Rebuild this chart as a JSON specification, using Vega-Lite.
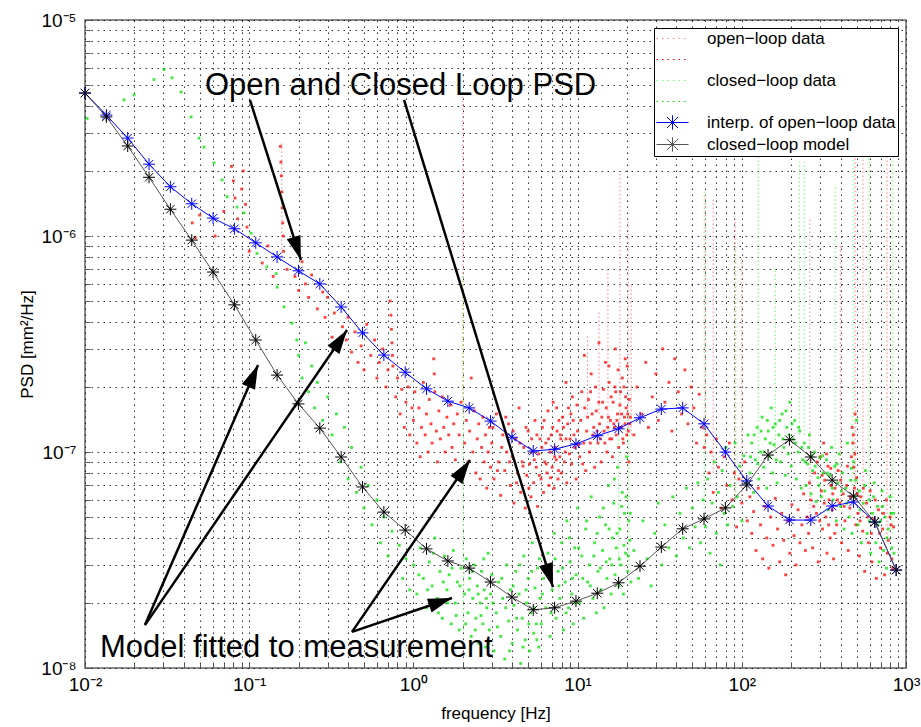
{
"$schema": "https://vega.github.io/schema/vega-lite/v6.json",
"width": 821, "height": 648,
"autosize": {"type": "none"},
"padding": {"left": 85, "top": 20, "right": 15, "bottom": 59},
"background": "white",
"config": {
  "view": {"stroke": "#666", "strokeWidth": 1.5},
  "axis": {"grid": true, "gridColor": "#000", "gridDash": [1.5, 4.5], "gridOpacity": 0.8, "gridWidth": 1, "domain": false, "ticks": true, "tickColor": "#555", "tickSize": -5, "labelFont": "Liberation Sans Narrow, Liberation Sans, sans-serif", "labelFontSize": 19, "labelColor": "#000", "labelOverlap": false, "labelBound": false, "labelFlush": false, "titleFont": "Liberation Sans Narrow, Liberation Sans, sans-serif", "titleFontSize": 17, "titleFontWeight": "normal", "titleColor": "#000"},
  "legend": {"orient": "top-right", "offset": 8, "fillColor": "#fff", "strokeColor": "#000", "strokeWidth": 1, "padding": 2, "labelFont": "Liberation Sans, sans-serif", "labelFontSize": 17, "labelColor": "#000", "labelLimit": 400, "symbolSize": 256, "symbolStrokeWidth": 1, "labelOffset": 34, "rowPadding": 3}
},
"datasets": {
  "ol": [
    {"f":0.045,"p":1.15e-6},{"f":0.047,"p":9.8e-7},{"f":0.05,"p":1.25e-6},{"f":0.062,"p":1.0e-6},{"f":0.07,"p":1.3e-6},{"f":0.078,"p":2.1e-6},{"f":0.08,"p":1.8e-6},{"f":0.082,"p":1.5e-6},{"f":0.085,"p":1.2e-6},{"f":0.09,"p":1.65e-6},{"f":0.092,"p":2.0e-6},{"f":0.095,"p":1.4e-6},{"f":0.097,"p":1.1e-6},{"f":0.1,"p":8.5e-7},
    {"f":0.12,"p":7.5e-7},{"f":0.13,"p":9e-7},{"f":0.14,"p":6.5e-7},{"f":0.155,"p":2.6e-6},{"f":0.156,"p":2.2e-6},{"f":0.157,"p":1.9e-6},{"f":0.158,"p":1.6e-6},{"f":0.159,"p":1.35e-6},{"f":0.16,"p":1.15e-6},{"f":0.161,"p":1.0e-6},{"f":0.162,"p":8.5e-7},{"f":0.17,"p":7e-7},{"f":0.19,"p":6.5e-7},{"f":0.2,"p":5.6e-7},{"f":0.21,"p":7.6e-7},{"f":0.22,"p":6e-7},{"f":0.23,"p":5.2e-7},{"f":0.24,"p":6.6e-7},{"f":0.26,"p":4.6e-7},{"f":0.28,"p":5.5e-7},{"f":0.29,"p":4.2e-7},{"f":0.3,"p":5.2e-7},
    {"f":0.32,"p":3.4e-7},{"f":0.33,"p":4.4e-7},{"f":0.35,"p":3.0e-7},{"f":0.37,"p":3.8e-7},{"f":0.39,"p":3.3e-7},{"f":0.4,"p":4.2e-7},{"f":0.42,"p":2.9e-7},{"f":0.44,"p":3.6e-7},{"f":0.46,"p":2.6e-7},{"f":0.48,"p":3.1e-7},{"f":0.5,"p":2.4e-7},{"f":0.52,"p":3.9e-7},{"f":0.55,"p":2.8e-7},{"f":0.58,"p":3.3e-7},{"f":0.6,"p":2.2e-7},{"f":0.62,"p":2.6e-7},{"f":0.65,"p":3.0e-7},{"f":0.68,"p":2.0e-7},{"f":0.7,"p":2.4e-7},{"f":0.72,"p":5.0e-7},{"f":0.73,"p":4.3e-7},{"f":0.735,"p":3.7e-7},{"f":0.74,"p":3.2e-7},{"f":0.745,"p":2.8e-7},{"f":0.75,"p":2.5e-7},{"f":0.78,"p":1.8e-7},{"f":0.8,"p":2.2e-7},{"f":0.83,"p":1.5e-7},{"f":0.85,"p":1.95e-7},{"f":0.88,"p":1.3e-7},{"f":0.9,"p":1.7e-7},{"f":0.93,"p":2.0e-7},{"f":0.95,"p":1.2e-7},{"f":0.98,"p":1.6e-7},
    {"f":1.0,"p":1.4e-7},{"f":1.02,"p":1.9e-7},{"f":1.05,"p":1.1e-7},{"f":1.08,"p":1.6e-7},{"f":1.1,"p":9.5e-8},{"f":1.12,"p":1.3e-7},{"f":1.15,"p":2.1e-7},{"f":1.18,"p":1.2e-7},{"f":1.2,"p":1.5e-7},{"f":1.23,"p":1.0e-7},{"f":1.25,"p":1.75e-7},{"f":1.28,"p":1.35e-7},{"f":1.3,"p":1.1e-7},{"f":1.33,"p":2.7e-7},{"f":1.34,"p":2.3e-7},{"f":1.35,"p":1.9e-7},{"f":1.38,"p":1.25e-7},{"f":1.4,"p":9e-8},{"f":1.43,"p":1.55e-7},{"f":1.46,"p":1.15e-7},{"f":1.5,"p":1.8e-7},{"f":1.53,"p":1.3e-7},{"f":1.56,"p":1.0e-7},{"f":1.6,"p":1.45e-7},{"f":1.64,"p":1.2e-7},{"f":1.68,"p":1.65e-7},{"f":1.72,"p":1.05e-7},{"f":1.76,"p":1.35e-7},{"f":1.8,"p":9.2e-8},{"f":1.85,"p":1.5e-7},{"f":1.9,"p":1.2e-7},{"f":1.95,"p":1.7e-7},{"f":2.05,"p":1.1e-7},{"f":2.1,"p":1.4e-7},{"f":2.15,"p":9e-8},{"f":2.2,"p":1.25e-7},{"f":2.25,"p":2.2e-7},{"f":2.3,"p":1.0e-7},{"f":2.35,"p":1.55e-7},{"f":2.4,"p":8e-8},{"f":2.45,"p":1.15e-7},{"f":2.5,"p":1.35e-7},{"f":2.55,"p":7.5e-8},{"f":2.6,"p":1.05e-7},{"f":2.65,"p":1.45e-7},{"f":2.7,"p":9e-8},{"f":2.75,"p":1.2e-7},{"f":2.8,"p":6.8e-8},{"f":2.85,"p":1.0e-7},{"f":2.9,"p":1.3e-7},{"f":2.95,"p":8.5e-8},
    {"f":3.0,"p":1.1e-7},{"f":3.1,"p":7.5e-8},{"f":3.2,"p":1.5e-7},{"f":3.3,"p":9e-8},{"f":3.4,"p":6.3e-8},{"f":3.5,"p":1.2e-7},{"f":3.6,"p":8.2e-8},{"f":3.7,"p":1.0e-7},{"f":3.8,"p":1.35e-7},{"f":3.9,"p":7e-8},{"f":4.0,"p":9.5e-8},{"f":4.1,"p":5.8e-8},{"f":4.2,"p":1.15e-7},{"f":4.3,"p":8e-8},{"f":4.4,"p":1.6e-7},{"f":4.5,"p":6.5e-8},{"f":4.6,"p":9e-8},{"f":4.7,"p":1.05e-7},{"f":4.8,"p":5.5e-8},{"f":4.9,"p":7.8e-8},{"f":5.0,"p":1.25e-7},{"f":5.1,"p":8.8e-8},{"f":5.2,"p":6.2e-8},{"f":5.3,"p":1.0e-7},{"f":5.4,"p":7.2e-8},{"f":5.5,"p":1.4e-7},{"f":5.6,"p":8.5e-8},{"f":5.7,"p":5.6e-8},{"f":5.8,"p":9.8e-8},{"f":5.9,"p":1.15e-7},{"f":6.0,"p":7.5e-8},{"f":6.1,"p":1.3e-7},{"f":6.2,"p":6.5e-8},{"f":6.3,"p":9e-8},{"f":6.4,"p":1.1e-7},{"f":6.5,"p":8e-8},{"f":6.6,"p":1.55e-7},{"f":6.7,"p":7e-8},{"f":6.8,"p":1.0e-7},{"f":6.9,"p":1.2e-7},{"f":7.0,"p":8.5e-8},{"f":7.1,"p":1.7e-7},{"f":7.2,"p":6.8e-8},{"f":7.3,"p":1.05e-7},{"f":7.4,"p":9.2e-8},{"f":7.5,"p":1.25e-7},{"f":7.6,"p":7.5e-8},{"f":7.7,"p":1.4e-7},{"f":7.8,"p":9.5e-8},{"f":7.9,"p":1.15e-7},
    {"f":3.05,"p":1.3e-7},{"f":3.25,"p":8.2e-8},{"f":3.45,"p":1.05e-7},{"f":3.65,"p":1.45e-7},{"f":3.85,"p":9e-8},{"f":4.05,"p":1.25e-7},{"f":4.25,"p":7.2e-8},{"f":4.45,"p":1.1e-7},{"f":4.65,"p":8.6e-8},{"f":4.85,"p":1.3e-7},{"f":5.05,"p":6.8e-8},{"f":5.25,"p":1.15e-7},{"f":5.45,"p":9.2e-8},{"f":5.65,"p":1.2e-7},{"f":5.85,"p":7.8e-8},{"f":6.05,"p":1.05e-7},{"f":6.25,"p":1.4e-7},{"f":6.45,"p":8.8e-8},{"f":6.65,"p":1.15e-7},{"f":6.85,"p":7.6e-8},{"f":7.05,"p":1.3e-7},{"f":7.25,"p":9.5e-8},{"f":7.45,"p":1.6e-7},{"f":7.65,"p":8.2e-8},{"f":7.85,"p":1.2e-7},
    {"f":8.0,"p":8e-8},{"f":8.2,"p":1.3e-7},{"f":8.4,"p":1.0e-7},{"f":8.6,"p":7.2e-8},{"f":8.8,"p":1.6e-7},{"f":9.0,"p":1.15e-7},{"f":9.2,"p":8.8e-8},{"f":9.4,"p":1.4e-7},{"f":9.6,"p":1.05e-7},{"f":9.8,"p":7.5e-8},{"f":10.0,"p":1.25e-7},{"f":10.3,"p":9.5e-8},{"f":10.6,"p":1.9e-7},{"f":10.9,"p":1.1e-7},{"f":11.2,"p":8.2e-8},{"f":11.5,"p":1.45e-7},{"f":11.8,"p":1.0e-7},{"f":12.1,"p":2.3e-7},{"f":12.4,"p":1.2e-7},{"f":12.7,"p":8.5e-8},{"f":13.0,"p":1.55e-7},{"f":13.3,"p":1.1e-7},{"f":13.6,"p":1.35e-7},{"f":13.9,"p":9e-8},{"f":14.2,"p":1.7e-7},{"f":14.5,"p":1.25e-7},{"f":14.8,"p":2.6e-7},{"f":15.1,"p":1.0e-7},{"f":15.4,"p":1.45e-7},{"f":15.7,"p":1.15e-7},{"f":16.0,"p":1.8e-7},{"f":16.3,"p":9.5e-8},{"f":16.6,"p":1.35e-7},{"f":16.9,"p":2.0e-7},{"f":17.2,"p":1.2e-7},{"f":17.5,"p":1.5e-7},{"f":17.8,"p":1.05e-7},{"f":18.1,"p":1.65e-7},{"f":18.4,"p":1.3e-7},{"f":18.7,"p":2.2e-7},{"f":19.0,"p":1.1e-7},{"f":19.3,"p":1.45e-7},{"f":19.6,"p":1.8e-7},{"f":19.9,"p":1.2e-7},{"f":20.2,"p":1.5e-7},{"f":20.5,"p":9e-8},{"f":20.8,"p":1.35e-7},
    {"f":8.1,"p":1.45e-7},{"f":8.3,"p":9e-8},{"f":8.5,"p":1.15e-7},{"f":8.7,"p":1.35e-7},{"f":8.9,"p":9.8e-8},{"f":9.1,"p":1.5e-7},{"f":9.5,"p":1.2e-7},{"f":9.9,"p":1.65e-7},{"f":10.15,"p":1.08e-7},{"f":10.45,"p":1.4e-7},{"f":10.75,"p":8.8e-8},{"f":11.05,"p":1.6e-7},{"f":11.35,"p":1.25e-7},{"f":11.65,"p":1.75e-7},{"f":11.95,"p":1.1e-7},{"f":12.25,"p":1.5e-7},{"f":12.55,"p":1.3e-7},{"f":12.85,"p":2.0e-7},{"f":13.15,"p":1.25e-7},{"f":13.45,"p":1.7e-7},{"f":13.75,"p":1.15e-7},{"f":14.05,"p":1.45e-7},{"f":14.35,"p":1.95e-7},{"f":14.65,"p":1.1e-7},{"f":14.95,"p":1.6e-7},{"f":15.25,"p":1.3e-7},{"f":15.55,"p":2.1e-7},{"f":15.85,"p":1.4e-7},{"f":16.15,"p":1.15e-7},{"f":16.45,"p":1.7e-7},{"f":16.75,"p":1.3e-7},{"f":17.05,"p":1.9e-7},{"f":17.35,"p":1.4e-7},{"f":17.65,"p":2.4e-7},{"f":17.95,"p":1.3e-7},{"f":18.25,"p":1.9e-7},{"f":18.55,"p":1.5e-7},{"f":18.85,"p":1.15e-7},{"f":19.15,"p":2.0e-7},{"f":19.45,"p":1.35e-7},{"f":19.75,"p":1.6e-7},{"f":20.05,"p":2.5e-7},{"f":20.35,"p":1.25e-7},{"f":20.65,"p":1.75e-7},{"f":20.95,"p":1.45e-7},
    {"f":8.5,"p":2.1e-7},{"f":11.0,"p":2.8e-7},{"f":13.5,"p":3.2e-7},{"f":15.5,"p":2.5e-7},{"f":17.0,"p":3.0e-7},{"f":19.5,"p":2.7e-7},{"f":12.0,"p":1.9e-7},{"f":9.3,"p":1.8e-7},
    {"f":22,"p":1.2e-7},{"f":23,"p":2.0e-7},{"f":24.5,"p":1.5e-7},{"f":26,"p":2.6e-7},{"f":27,"p":1.3e-7},{"f":28.5,"p":1.8e-7},{"f":30,"p":2.3e-7},{"f":31,"p":1.4e-7},{"f":33,"p":3.0e-7},{"f":34,"p":1.7e-7},{"f":36,"p":2.1e-7},{"f":37.5,"p":1.25e-7},{"f":39,"p":2.7e-7},{"f":41,"p":1.9e-7},{"f":43,"p":1.5e-7},{"f":45,"p":2.4e-7},{"f":47,"p":1.35e-7},{"f":49,"p":2.0e-7},{"f":51,"p":1.6e-7},{"f":53,"p":1.1e-7},{"f":55,"p":1.85e-7},{"f":57,"p":1.3e-7},{"f":59,"p":1.05e-7},
    {"f":61,"p":1.2e-7},{"f":63,"p":8e-8},{"f":65,"p":1.0e-7},{"f":67,"p":6.5e-8},{"f":70,"p":1.15e-7},{"f":72,"p":8.5e-8},{"f":75,"p":5.5e-8},{"f":78,"p":9.5e-8},{"f":81,"p":7e-8},{"f":84,"p":1.1e-7},{"f":87,"p":6e-8},{"f":90,"p":8e-8},{"f":93,"p":4.5e-8},{"f":96,"p":7.5e-8},{"f":100,"p":5.8e-8},{"f":104,"p":9e-8},{"f":108,"p":4.8e-8},
    {"f":112,"p":6.2e-8},{"f":115,"p":4.2e-8},{"f":118,"p":5.3e-8},{"f":122,"p":3.5e-8},{"f":126,"p":6.8e-8},{"f":130,"p":4.6e-8},{"f":134,"p":3.2e-8},{"f":138,"p":5.6e-8},{"f":142,"p":4e-8},{"f":146,"p":2.9e-8},{"f":150,"p":5e-8},{"f":155,"p":3.7e-8},{"f":160,"p":6.1e-8},{"f":165,"p":4.4e-8},{"f":170,"p":3.1e-8},{"f":175,"p":5.2e-8},{"f":180,"p":3.9e-8},{"f":185,"p":2.7e-8},{"f":190,"p":4.8e-8},{"f":196,"p":3.4e-8},{"f":202,"p":5.7e-8},{"f":208,"p":4.1e-8},{"f":214,"p":3e-8},{"f":220,"p":5.4e-8},{"f":226,"p":3.8e-8},{"f":232,"p":4.6e-8},{"f":238,"p":6.4e-8},{"f":244,"p":3.5e-8},{"f":250,"p":5e-8},
    {"f":255,"p":4.2e-8},{"f":262,"p":6e-8},{"f":270,"p":3.6e-8},{"f":278,"p":8e-8},{"f":285,"p":5.2e-8},{"f":292,"p":3.1e-8},{"f":300,"p":9.5e-8},{"f":305,"p":6.6e-8},{"f":310,"p":4.4e-8},{"f":315,"p":1.1e-7},{"f":320,"p":7.4e-8},{"f":325,"p":5e-8},{"f":330,"p":3.4e-8},{"f":335,"p":8.6e-8},{"f":340,"p":6e-8},{"f":345,"p":4e-8},{"f":350,"p":7e-8},{"f":355,"p":5.4e-8},{"f":362,"p":3.2e-8},{"f":370,"p":6.8e-8},{"f":378,"p":4.6e-8},{"f":386,"p":8.2e-8},{"f":395,"p":5.8e-8},{"f":405,"p":3.8e-8},{"f":415,"p":6.4e-8},
    {"f":258,"p":7.2e-8},{"f":274,"p":5.6e-8},{"f":288,"p":9e-8},{"f":298,"p":4.8e-8},{"f":308,"p":7.8e-8},{"f":318,"p":5.8e-8},{"f":328,"p":9.8e-8},{"f":338,"p":4.6e-8},{"f":348,"p":8.4e-8},{"f":358,"p":6.4e-8},{"f":368,"p":4.2e-8},{"f":382,"p":6e-8},{"f":400,"p":7.4e-8},{"f":420,"p":5.6e-8},{"f":440,"p":8.6e-8},{"f":460,"p":6.2e-8},{"f":478,"p":1.2e-7},{"f":488,"p":9.8e-8},{"f":505,"p":6.4e-8},{"f":525,"p":4.8e-8},{"f":550,"p":6.8e-8},{"f":585,"p":5e-8},{"f":615,"p":4.2e-8},{"f":650,"p":6e-8},{"f":690,"p":4.2e-8},{"f":730,"p":5.2e-8},{"f":770,"p":3.4e-8},{"f":810,"p":4.6e-8},{"f":830,"p":2.9e-8},
    {"f":425,"p":4.8e-8},{"f":435,"p":7e-8},{"f":445,"p":3.5e-8},{"f":455,"p":5.5e-8},{"f":465,"p":9.5e-8},{"f":470,"p":1.3e-7},{"f":475,"p":1.1e-7},{"f":480,"p":8.5e-8},{"f":485,"p":6.8e-8},{"f":490,"p":1.5e-7},{"f":495,"p":4.6e-8},{"f":500,"p":7.6e-8},{"f":510,"p":5.2e-8},{"f":520,"p":3.3e-8},{"f":530,"p":6.2e-8},{"f":545,"p":4.3e-8},{"f":560,"p":2.8e-8},{"f":575,"p":5.8e-8},{"f":590,"p":3.8e-8},{"f":605,"p":6.6e-8},{"f":620,"p":3.1e-8},{"f":640,"p":4.9e-8},{"f":660,"p":2.6e-8},{"f":680,"p":5.4e-8},{"f":700,"p":3.6e-8},{"f":720,"p":4.4e-8},{"f":740,"p":2.7e-8},{"f":760,"p":6e-8},{"f":780,"p":3.9e-8},{"f":800,"p":5e-8},{"f":820,"p":3.2e-8},{"f":840,"p":4.5e-8}
  ],
  "cl": [
    {"f":0.0103,"p":3.5e-6},{"f":0.0173,"p":4.27e-6},{"f":0.0199,"p":4.5e-6},{"f":0.0263,"p":5.3e-6},{"f":0.0303,"p":5.9e-6},{"f":0.0339,"p":5.4e-6},{"f":0.0385,"p":4.64e-6},{"f":0.0443,"p":3.56e-6},{"f":0.0495,"p":2.84e-6},{"f":0.053,"p":2.58e-6},{"f":0.061,"p":2.18e-6},{"f":0.0683,"p":1.82e-6},{"f":0.0733,"p":1.52e-6},{"f":0.0843,"p":1.36e-6},{"f":0.093,"p":1.28e-6},{"f":0.1026,"p":1.03e-6},{"f":0.1116,"p":8.3e-7},{"f":0.128,"p":7.2e-7},{"f":0.146,"p":6.7e-7},{"f":0.148,"p":5.8e-7},{"f":0.163,"p":4.7e-7},{"f":0.182,"p":3.95e-7},{"f":0.195,"p":3.3e-7},
    {"f":0.2,"p":2.8e-7},{"f":0.21,"p":2.2e-7},{"f":0.22,"p":3.2e-7},{"f":0.23,"p":1.9e-7},{"f":0.24,"p":2.5e-7},{"f":0.25,"p":1.6e-7},{"f":0.26,"p":2.1e-7},{"f":0.28,"p":1.4e-7},{"f":0.3,"p":1.8e-7},{"f":0.32,"p":1.2e-7},{"f":0.34,"p":1.5e-7},{"f":0.36,"p":9e-8},{"f":0.38,"p":1.3e-7},{"f":0.4,"p":7.5e-8},{"f":0.42,"p":1.05e-7},{"f":0.45,"p":6.5e-8},{"f":0.48,"p":8.5e-8},{"f":0.5,"p":5.5e-8},{"f":0.53,"p":7e-8},{"f":0.56,"p":4.6e-8},{"f":0.6,"p":6e-8},{"f":0.63,"p":3.8e-8},{"f":0.66,"p":5e-8},{"f":0.7,"p":3.3e-8},{"f":0.74,"p":4.3e-8},{"f":0.78,"p":2.9e-8},{"f":0.82,"p":3.7e-8},{"f":0.86,"p":2.6e-8},{"f":0.9,"p":3.2e-8},{"f":0.95,"p":2.3e-8},
    {"f":1.0,"p":3.0e-8},{"f":1.05,"p":2.2e-8},{"f":1.1,"p":3.6e-8},{"f":1.15,"p":2.6e-8},{"f":1.2,"p":1.9e-8},{"f":1.25,"p":3.1e-8},{"f":1.3,"p":2.4e-8},{"f":1.35,"p":4.0e-8},{"f":1.4,"p":2.1e-8},{"f":1.45,"p":2.8e-8},{"f":1.5,"p":1.7e-8},{"f":1.55,"p":3.3e-8},{"f":1.6,"p":2.3e-8},{"f":1.65,"p":2.7e-8},{"f":1.7,"p":1.6e-8},{"f":1.75,"p":3.5e-8},{"f":1.8,"p":2.0e-8},{"f":1.85,"p":2.5e-8},{"f":1.9,"p":1.5e-8},{"f":1.95,"p":2.9e-8},{"f":2.05,"p":2.2e-8},{"f":2.1,"p":3.2e-8},{"f":2.15,"p":1.8e-8},{"f":2.2,"p":2.6e-8},{"f":2.25,"p":1.4e-8},{"f":2.3,"p":2.1e-8},{"f":2.35,"p":3.0e-8},{"f":2.4,"p":1.7e-8},{"f":2.45,"p":2.4e-8},{"f":2.5,"p":1.3e-8},{"f":2.55,"p":2.0e-8},{"f":2.6,"p":2.8e-8},{"f":2.65,"p":1.6e-8},{"f":2.7,"p":2.3e-8},{"f":2.75,"p":1.25e-8},{"f":2.8,"p":1.9e-8},{"f":2.85,"p":3.4e-8},{"f":2.9,"p":1.5e-8},{"f":2.95,"p":2.2e-8},{"f":3.0,"p":2.7e-8},{"f":3.1,"p":1.2e-8},{"f":3.2,"p":1.8e-8},{"f":3.3,"p":2.5e-8},{"f":3.4,"p":1.4e-8},{"f":3.5,"p":2.1e-8},{"f":3.6,"p":1.1e-8},{"f":3.7,"p":3.0e-8},{"f":3.8,"p":1.65e-8},{"f":3.9,"p":2.3e-8},{"f":4.0,"p":1.3e-8},{"f":4.1,"p":1.95e-8},{"f":4.2,"p":2.8e-8},{"f":4.3,"p":1.5e-8},{"f":4.4,"p":2.2e-8},{"f":4.5,"p":1.05e-8},{"f":4.6,"p":1.7e-8},{"f":4.7,"p":3.3e-8},{"f":4.8,"p":1.35e-8},{"f":4.9,"p":2.0e-8},{"f":5.0,"p":2.6e-8},{"f":5.1,"p":1.2e-8},{"f":5.2,"p":1.8e-8},{"f":5.3,"p":3.8e-8},{"f":5.4,"p":1.45e-8},{"f":5.5,"p":2.35e-8},{"f":5.6,"p":1.6e-8},{"f":5.7,"p":2.9e-8},{"f":5.8,"p":1.25e-8},{"f":5.9,"p":2.1e-8},
    {"f":1.08,"p":2.7e-8},{"f":1.22,"p":2.3e-8},{"f":1.32,"p":3.4e-8},{"f":1.42,"p":1.8e-8},{"f":1.52,"p":2.5e-8},{"f":1.62,"p":2.0e-8},{"f":1.72,"p":2.9e-8},{"f":1.82,"p":1.75e-8},{"f":1.92,"p":2.4e-8},{"f":2.08,"p":1.6e-8},{"f":2.18,"p":2.3e-8},{"f":2.28,"p":2.8e-8},{"f":2.38,"p":1.5e-8},{"f":2.48,"p":2.2e-8},{"f":2.58,"p":1.75e-8},{"f":2.68,"p":3.2e-8},{"f":2.78,"p":2.1e-8},{"f":2.88,"p":1.3e-8},{"f":3.05,"p":2.0e-8},{"f":3.25,"p":1.55e-8},{"f":3.45,"p":2.6e-8},{"f":3.65,"p":1.9e-8},{"f":3.85,"p":1.2e-8},{"f":4.05,"p":2.4e-8},{"f":4.25,"p":1.7e-8},{"f":4.45,"p":3.0e-8},{"f":4.65,"p":1.25e-8},{"f":4.85,"p":2.3e-8},{"f":5.05,"p":1.6e-8},{"f":5.25,"p":2.8e-8},{"f":5.45,"p":1.9e-8},{"f":5.65,"p":1.35e-8},{"f":5.85,"p":3.2e-8},
    {"f":6.0,"p":1.6e-8},{"f":6.2,"p":2.6e-8},{"f":6.4,"p":1.9e-8},{"f":6.6,"p":3.4e-8},{"f":6.8,"p":1.4e-8},{"f":7.0,"p":2.3e-8},{"f":7.2,"p":4.2e-8},{"f":7.4,"p":1.7e-8},{"f":7.6,"p":2.8e-8},{"f":7.8,"p":2.1e-8},{"f":8.0,"p":3.8e-8},{"f":8.2,"p":1.5e-8},{"f":8.4,"p":2.5e-8},{"f":8.6,"p":4.8e-8},{"f":8.8,"p":1.9e-8},{"f":9.0,"p":3.1e-8},{"f":9.2,"p":2.2e-8},{"f":9.4,"p":1.6e-8},{"f":9.6,"p":3.6e-8},{"f":9.8,"p":2.7e-8},{"f":10.0,"p":5.5e-8},{"f":10.3,"p":2.0e-8},{"f":10.6,"p":3.3e-8},{"f":10.9,"p":1.7e-8},{"f":11.2,"p":4.4e-8},{"f":11.5,"p":2.5e-8},{"f":11.8,"p":3.0e-8},{"f":12.1,"p":6.2e-8},{"f":12.4,"p":2.1e-8},{"f":12.7,"p":3.8e-8},{"f":13.0,"p":1.8e-8},{"f":13.3,"p":2.8e-8},{"f":13.6,"p":5.0e-8},{"f":13.9,"p":2.3e-8},{"f":14.2,"p":3.5e-8},{"f":14.5,"p":1.9e-8},{"f":14.8,"p":4.6e-8},{"f":15.1,"p":2.6e-8},{"f":15.4,"p":7.0e-8},{"f":15.7,"p":3.2e-8},{"f":16.0,"p":2.2e-8},{"f":16.3,"p":4.0e-8},{"f":16.6,"p":5.8e-8},{"f":16.9,"p":2.7e-8},{"f":17.2,"p":3.6e-8},{"f":17.5,"p":8.5e-8},{"f":17.8,"p":2.4e-8},{"f":18.1,"p":4.4e-8},{"f":18.4,"p":3.0e-8},{"f":18.7,"p":6.5e-8},{"f":19.0,"p":2.2e-8},{"f":19.3,"p":5.2e-8},{"f":19.6,"p":3.4e-8},{"f":19.9,"p":9.5e-8},{"f":20.2,"p":2.8e-8},{"f":20.5,"p":4.8e-8},{"f":20.8,"p":3.9e-8},{"f":21.1,"p":2.5e-8},
    {"f":6.1,"p":2.2e-8},{"f":6.5,"p":2.9e-8},{"f":6.9,"p":1.8e-8},{"f":7.3,"p":3.2e-8},{"f":7.7,"p":2.4e-8},{"f":8.1,"p":2.9e-8},{"f":8.5,"p":1.8e-8},{"f":8.9,"p":4.0e-8},{"f":9.3,"p":2.6e-8},{"f":9.7,"p":2.0e-8},{"f":10.15,"p":3.6e-8},{"f":10.75,"p":2.6e-8},{"f":11.35,"p":4.8e-8},{"f":11.95,"p":2.4e-8},{"f":12.55,"p":3.3e-8},{"f":13.15,"p":4.2e-8},{"f":13.75,"p":2.9e-8},{"f":14.35,"p":5.5e-8},{"f":14.95,"p":3.1e-8},{"f":15.55,"p":4.4e-8},{"f":16.15,"p":3.0e-8},{"f":16.75,"p":7.5e-8},{"f":17.35,"p":4.2e-8},{"f":17.95,"p":3.2e-8},{"f":18.55,"p":5.6e-8},{"f":19.15,"p":3.7e-8},{"f":19.75,"p":6.2e-8},{"f":20.35,"p":3.3e-8},{"f":20.95,"p":5.2e-8},
    {"f":22,"p":3.5e-8},{"f":23.5,"p":2.6e-8},{"f":25,"p":4.8e-8},{"f":26.5,"p":3.2e-8},{"f":28,"p":2.4e-8},{"f":29.5,"p":4.2e-8},{"f":31,"p":5.8e-8},{"f":32.5,"p":3.0e-8},{"f":34,"p":4.6e-8},{"f":36,"p":3.6e-8},{"f":38,"p":6.2e-8},{"f":40,"p":3.3e-8},{"f":42,"p":5.2e-8},{"f":44,"p":4.0e-8},{"f":46,"p":6.8e-8},{"f":48,"p":3.6e-8},{"f":50,"p":5.5e-8},{"f":52,"p":4.5e-8},{"f":54,"p":7.2e-8},{"f":56,"p":3.8e-8},{"f":58,"p":6.0e-8},
    {"f":60,"p":4.5e-8},{"f":62,"p":7.5e-8},{"f":64,"p":3.4e-8},{"f":66,"p":5.8e-8},{"f":68,"p":9e-8},{"f":70,"p":4.2e-8},{"f":72,"p":6.5e-8},{"f":74,"p":3.0e-8},{"f":76,"p":8.2e-8},{"f":78,"p":5.2e-8},{"f":80,"p":1.05e-7},{"f":82,"p":4.6e-8},{"f":85,"p":7e-8},{"f":88,"p":5.6e-8},{"f":91,"p":1.1e-7},{"f":94,"p":6.2e-8},{"f":97,"p":8.6e-8},{"f":100,"p":4.8e-8},{"f":103,"p":9.6e-8},{"f":106,"p":7.2e-8},{"f":109,"p":1.2e-7},
    {"f":112,"p":8e-8},{"f":115,"p":1.1e-7},{"f":118,"p":6.5e-8},{"f":121,"p":9.2e-8},{"f":124,"p":1.3e-7},{"f":127,"p":7.5e-8},{"f":130,"p":1.0e-7},{"f":133,"p":1.45e-7},{"f":136,"p":8.5e-8},{"f":139,"p":1.15e-7},{"f":142,"p":6.8e-8},{"f":145,"p":1.25e-7},{"f":148,"p":9.5e-8},{"f":151,"p":1.6e-7},{"f":154,"p":8e-8},{"f":157,"p":1.08e-7},{"f":160,"p":1.35e-7},{"f":164,"p":7.2e-8},{"f":168,"p":1.2e-7},{"f":172,"p":9e-8},{"f":176,"p":1.5e-7},{"f":180,"p":1.05e-7},{"f":184,"p":7.8e-8},{"f":188,"p":1.3e-7},{"f":192,"p":9.8e-8},{"f":196,"p":1.7e-7},{"f":200,"p":8.6e-8},{"f":205,"p":1.15e-7},{"f":210,"p":1.4e-7},{"f":215,"p":7.5e-8},{"f":220,"p":1.0e-7},{"f":225,"p":1.25e-7},{"f":230,"p":6.8e-8},{"f":235,"p":9.2e-8},{"f":240,"p":1.1e-7},{"f":246,"p":7e-8},{"f":252,"p":8.8e-8},{"f":258,"p":1.2e-7},{"f":264,"p":6.4e-8},{"f":270,"p":8.2e-8},{"f":277,"p":1.0e-7},{"f":284,"p":5.9e-8},{"f":291,"p":7.6e-8},{"f":298,"p":9.4e-8},{"f":305,"p":6.2e-8},{"f":312,"p":8e-8},
    {"f":113,"p":9.5e-8},{"f":119,"p":1.2e-7},{"f":125,"p":8.8e-8},{"f":131,"p":1.25e-7},{"f":137,"p":1.0e-7},{"f":143,"p":1.4e-7},{"f":149,"p":1.1e-7},{"f":155,"p":1.3e-7},{"f":162,"p":9.2e-8},{"f":170,"p":1.4e-7},{"f":178,"p":1.15e-7},{"f":186,"p":1.55e-7},{"f":194,"p":1.2e-7},{"f":202,"p":1.35e-7},{"f":212,"p":1.1e-7},{"f":222,"p":1.3e-7},{"f":232,"p":1.05e-7},{"f":243,"p":9e-8},{"f":255,"p":1.05e-7},{"f":267,"p":9.6e-8},{"f":280,"p":8.6e-8},{"f":295,"p":7e-8},{"f":310,"p":9.6e-8},
    {"f":320,"p":6.6e-8},{"f":328,"p":9.2e-8},{"f":336,"p":5.4e-8},{"f":344,"p":7.8e-8},{"f":352,"p":1.05e-7},{"f":360,"p":6e-8},{"f":368,"p":8.6e-8},{"f":376,"p":4.8e-8},{"f":384,"p":7.2e-8},{"f":392,"p":9.8e-8},{"f":400,"p":5.6e-8},{"f":410,"p":8e-8},{"f":420,"p":4.4e-8},{"f":430,"p":6.8e-8},{"f":440,"p":1.1e-7},{"f":450,"p":5e-8},{"f":460,"p":7.4e-8},{"f":470,"p":4.2e-8},{"f":480,"p":9e-8},{"f":490,"p":6.2e-8},{"f":500,"p":1.4e-7},{"f":510,"p":4.6e-8},{"f":520,"p":6.6e-8},{"f":535,"p":3.8e-8},{"f":550,"p":5.8e-8},{"f":565,"p":8.2e-8},{"f":580,"p":4.2e-8},{"f":595,"p":6e-8},{"f":610,"p":3.4e-8},{"f":625,"p":5.2e-8},{"f":640,"p":7.2e-8},{"f":655,"p":3.8e-8},{"f":670,"p":5.6e-8},{"f":685,"p":3.1e-8},{"f":700,"p":4.8e-8},{"f":715,"p":6.6e-8},{"f":730,"p":3.5e-8},{"f":745,"p":5e-8},{"f":760,"p":2.9e-8},{"f":780,"p":4.4e-8},{"f":800,"p":6.2e-8},{"f":820,"p":3.6e-8},{"f":840,"p":5.2e-8},
    {"f":332,"p":8e-8},{"f":356,"p":6.8e-8},{"f":380,"p":8.8e-8},{"f":405,"p":6.6e-8},{"f":435,"p":5.8e-8},{"f":465,"p":8.4e-8},{"f":495,"p":7.4e-8},{"f":525,"p":5.4e-8},{"f":560,"p":7e-8},{"f":600,"p":4.8e-8},{"f":635,"p":6.2e-8},{"f":675,"p":4.6e-8},{"f":720,"p":5.6e-8},{"f":765,"p":4e-8},{"f":810,"p":5.2e-8},{"f":845,"p":3.4e-8}
  ],
  "olspk": [
    {"f":0.158,"p":8e-7,"p2":2.7e-6},{"f":2.0,"p":1.5e-7,"p2":4.4e-6},{"f":11.5,"p":1.5e-7,"p2":3.5e-7},{"f":13.5,"p":1.5e-7,"p2":4.5e-7},{"f":15.3,"p":1.2e-7,"p2":7.2e-7},{"f":18.1,"p":1.3e-7,"p2":2.0e-6},{"f":20.3,"p":1.3e-7,"p2":1.2e-6},{"f":21.2,"p":1.2e-7,"p2":6e-7},{"f":60,"p":1e-7,"p2":1.6e-6},{"f":67,"p":8e-8,"p2":1.5e-6},{"f":91,"p":6e-8,"p2":1.2e-6},{"f":100,"p":6e-8,"p2":8e-7},{"f":260,"p":5e-8,"p2":1.2e-6},{"f":398,"p":6e-8,"p2":9e-7},{"f":490,"p":6e-8,"p2":4e-6},{"f":547,"p":5e-8,"p2":3.9e-6},{"f":766,"p":4e-8,"p2":2.9e-6}
  ],
  "clspk": [
    {"f":2.02,"p":1.5e-8,"p2":6.7e-7},{"f":17.8,"p":3e-8,"p2":1.2e-7},{"f":20.5,"p":3e-8,"p2":1.5e-7},{"f":59,"p":5e-8,"p2":1.6e-6},{"f":92,"p":6e-8,"p2":9e-7},{"f":126,"p":9e-8,"p2":2.6e-6},{"f":160,"p":1e-7,"p2":7e-7},{"f":225,"p":1.2e-7,"p2":2.2e-6},{"f":240,"p":1.2e-7,"p2":2.2e-6},{"f":370,"p":8e-8,"p2":1.7e-6},{"f":475,"p":7e-8,"p2":4e-6},{"f":596,"p":6e-8,"p2":3.9e-6},{"f":832,"p":4e-8,"p2":3e-6}
  ],
  "interp": [
    {"f":0.01,"p":4.59e-6},{"f":0.01349,"p":3.63e-6},{"f":0.0182,"p":2.84e-6},{"f":0.02455,"p":2.15e-6},{"f":0.03311,"p":1.69e-6},{"f":0.04467,"p":1.41e-6},{"f":0.06026,"p":1.21e-6},{"f":0.08128,"p":1.08e-6},{"f":0.1096,"p":9.3e-7},{"f":0.1479,"p":8.0e-7},{"f":0.1995,"p":6.9e-7},{"f":0.2692,"p":6.0e-7},{"f":0.3631,"p":4.69e-7},{"f":0.4898,"p":3.56e-7},{"f":0.6607,"p":2.81e-7},{"f":0.8913,"p":2.34e-7},{"f":1.202,"p":1.96e-7},{"f":1.622,"p":1.72e-7},{"f":2.188,"p":1.6e-7},{"f":2.951,"p":1.39e-7},{"f":3.981,"p":1.17e-7},{"f":5.37,"p":1.01e-7},{"f":7.244,"p":1.03e-7},{"f":9.772,"p":1.09e-7},{"f":13.18,"p":1.19e-7},{"f":17.78,"p":1.28e-7},{"f":23.99,"p":1.44e-7},{"f":32.36,"p":1.58e-7},{"f":43.65,"p":1.6e-7},{"f":58.88,"p":1.35e-7},{"f":79.43,"p":1.0e-7},{"f":107.2,"p":7.35e-8},{"f":144.5,"p":5.62e-8},{"f":195,"p":4.84e-8},{"f":263,"p":4.84e-8},{"f":354.8,"p":5.62e-8},{"f":478.6,"p":5.87e-8},{"f":645.7,"p":4.74e-8},{"f":871,"p":2.84e-8}
  ],
  "model": [
    {"f":0.01,"p":4.59e-6},{"f":0.01349,"p":3.56e-6},{"f":0.0182,"p":2.61e-6},{"f":0.02455,"p":1.87e-6},{"f":0.03311,"p":1.33e-6},{"f":0.04467,"p":9.57e-7},{"f":0.06026,"p":6.81e-7},{"f":0.08128,"p":4.8e-7},{"f":0.1096,"p":3.3e-7},{"f":0.1479,"p":2.27e-7},{"f":0.1995,"p":1.67e-7},{"f":0.2692,"p":1.29e-7},{"f":0.3631,"p":9.48e-8},{"f":0.4898,"p":6.89e-8},{"f":0.6607,"p":5.27e-8},{"f":0.8913,"p":4.35e-8},{"f":1.202,"p":3.56e-8},{"f":1.622,"p":3.13e-8},{"f":2.188,"p":2.9e-8},{"f":2.951,"p":2.5e-8},{"f":3.981,"p":2.13e-8},{"f":5.37,"p":1.86e-8},{"f":7.244,"p":1.9e-8},{"f":9.772,"p":2.04e-8},{"f":13.18,"p":2.22e-8},{"f":17.78,"p":2.48e-8},{"f":23.99,"p":2.96e-8},{"f":32.36,"p":3.63e-8},{"f":43.65,"p":4.41e-8},{"f":58.88,"p":4.9e-8},{"f":79.43,"p":5.51e-8},{"f":107.2,"p":7.03e-8},{"f":144.5,"p":9.68e-8},{"f":195,"p":1.14e-7},{"f":263,"p":9.48e-8},{"f":354.8,"p":7.41e-8},{"f":478.6,"p":6.25e-8},{"f":645.7,"p":4.74e-8},{"f":871,"p":2.84e-8}
  ],
  "arrows": [
    {"id":1,"f":0.101,"p":4.27e-6,"f2":0.2065,"p2":7.74e-7},
    {"id":2,"f":0.877,"p":4.27e-6,"f2":7.08,"p2":2.37e-8},
    {"id":3,"f":0.02317,"p":1.58e-8,"f2":0.1132,"p2":2.53e-7},
    {"id":4,"f":0.02317,"p":1.58e-8,"f2":0.3945,"p2":3.67e-7},
    {"id":5,"f":0.4227,"p":1.47e-8,"f2":2.213,"p2":9.18e-8},
    {"id":6,"f":0.4227,"p":1.47e-8,"f2":1.718,"p2":2.11e-8}
  ],
  "notes": [
    {"f":0.0538,"p":4.5e-6,"t":"Open and Closed Loop PSD"},
    {"f":0.01234,"p":1.124e-8,"t":"Model fitted to measurement"}
  ]
},
"encoding": {
  "x": {"field": "f", "type": "quantitative",
    "scale": {"type": "log", "domain": [0.01, 1000], "nice": false},
    "axis": {"title": "frequency [Hz]", "values": [0.01,0.02,0.03,0.04,0.05,0.06,0.07,0.08,0.09,0.1,0.2,0.3,0.4,0.5,0.6,0.7,0.8,0.9,1,2,3,4,5,6,7,8,9,10,20,30,40,50,60,70,80,90,100,200,300,400,500,600,700,800,900,1000],
      "labelExpr": "datum.value == 0.01 ? '10⁻²' : datum.value == 0.1 ? '10⁻¹' : datum.value == 1 ? '10⁰' : datum.value == 10 ? '10¹' : datum.value == 100 ? '10²' : datum.value == 1000 ? '10³' : ''",
      "labelPadding": 12, "titlePadding": 11}},
  "y": {"field": "p", "type": "quantitative",
    "scale": {"type": "log", "domain": [1e-8, 1e-5], "nice": false},
    "axis": {"title": "PSD [mm²/Hz]", "values": [1e-8,2e-8,3e-8,4e-8,5e-8,6e-8,7e-8,8e-8,9e-8,1e-7,2e-7,3e-7,4e-7,5e-7,6e-7,7e-7,8e-7,9e-7,1e-6,2e-6,3e-6,4e-6,5e-6,6e-6,7e-6,8e-6,9e-6,1e-5],
      "labelExpr": "datum.value == 1e-8 ? '10⁻⁸' : datum.value == 1e-7 ? '10⁻⁷' : datum.value == 1e-6 ? '10⁻⁶' : datum.value == 1e-5 ? '10⁻⁵' : ''",
      "labelPadding": 14, "titlePadding": 4}}
},
"layer": [
  {"data": {"name": "olspk"}, "mark": {"type": "rule", "strokeDash": [1.5, 2.5], "strokeWidth": 1, "opacity": 1},
   "encoding": {"y2": {"field": "p2"},
     "color": {"datum": "open−loop data", "type": "nominal",
       "scale": {"domain": ["open−loop data","ol2","closed−loop data","cl2","interp. of open−loop data","closed−loop model"], "range": ["#ff8080","#ff0000","#70ff70","#00e000","#0000ff","#555555"]},
       "legend": {"title": null,
         "labelExpr": "datum.label == 'ol2' || datum.label == 'cl2' ? '' : datum.label",
         "symbolType": {"expr": "datum.value == 'interp. of open−loop data' || datum.value == 'closed−loop model' ? 'M-1,0L3,0M0.3,-0.7L1.7,0.7M0.3,0.7L1.7,-0.7M1,-0.9L1,0.9' : 'M-1,0L3,0'"},
         "symbolDash": {"expr": "datum.value == 'interp. of open−loop data' || datum.value == 'closed−loop model' ? [] : [1.5,4]"},
         "encode": {"symbols": {
           "shape": {"value": {"expr": "datum.value == 'interp. of open−loop data' || datum.value == 'closed−loop model' ? 'M-1,0L3,0M0.3,-0.7L1.7,0.7M0.3,0.7L1.7,-0.7M1,-0.9L1,0.9' : 'M-1,0L3,0'"}},
           "strokeDash": {"value": {"expr": "datum.value == 'interp. of open−loop data' || datum.value == 'closed−loop model' ? [] : [1.5,4]"}},
           "fill": {"value": "transparent"},
           "opacity": {"value": 1},
           "strokeWidth": {"value": 1}}}}}}},
  {"data": {"name": "clspk"}, "mark": {"type": "rule", "strokeDash": [1.5, 2.5], "strokeWidth": 1, "opacity": 1, "color": "#70ff70"},
   "encoding": {"y2": {"field": "p2"}}},
  {"data": {"name": "ol"}, "mark": {"type": "point", "shape": "square", "filled": true, "size": 8, "opacity": 0.75, "color": "#ff0000"},
   "encoding": {}},
  {"data": {"name": "cl"}, "mark": {"type": "point", "shape": "square", "filled": true, "size": 8, "opacity": 0.75, "color": "#00e000"},
   "encoding": {}},
  {"data": {"name": "interp"}, "mark": {"type": "line", "strokeWidth": 1, "color": "#0000ff"},
   "encoding": {}},
  {"data": {"name": "interp"}, "mark": {"type": "point", "shape": "M-1,0L1,0M0,-1L0,1M-0.7,-0.7L0.7,0.7M-0.7,0.7L0.7,-0.7", "filled": false, "size": 144, "strokeWidth": 1, "opacity": 1, "color": "#0000ff"},
   "encoding": {}},
  {"data": {"name": "model"}, "mark": {"type": "line", "strokeWidth": 1, "color": "#555555"},
   "encoding": {}},
  {"data": {"name": "model"}, "mark": {"type": "point", "shape": "M-1,0L1,0M0,-1L0,1M-0.7,-0.7L0.7,0.7M-0.7,0.7L0.7,-0.7", "filled": false, "size": 144, "strokeWidth": 1, "opacity": 1, "color": "#000"},
   "encoding": {}},
  {"data": {"name": "arrows"}, "mark": {"type": "rule", "color": "#000", "strokeWidth": 2.5},
   "encoding": {"x2": {"field": "f2"}, "y2": {"field": "p2"}}},
  {"data": {"name": "arrows"}, "transform": [{"filter": "datum.id == 1"}], "mark": {"type": "point", "shape": "M0,0L0.3,1L-0.3,1Z", "filled": true, "color": "#000", "opacity": 1, "size": 2304, "angle": 162.3},
   "encoding": {"x": {"field": "f2", "type": "quantitative"}, "y": {"field": "p2", "type": "quantitative"}}},
  {"data": {"name": "arrows"}, "transform": [{"filter": "datum.id == 2"}], "mark": {"type": "point", "shape": "M0,0L0.3,1L-0.3,1Z", "filled": true, "color": "#000", "opacity": 1, "size": 2304, "angle": 163.0},
   "encoding": {"x": {"field": "f2", "type": "quantitative"}, "y": {"field": "p2", "type": "quantitative"}}},
  {"data": {"name": "arrows"}, "transform": [{"filter": "datum.id == 3"}], "mark": {"type": "point", "shape": "M0,0L0.3,1L-0.3,1Z", "filled": true, "color": "#000", "opacity": 1, "size": 2304, "angle": 23.5},
   "encoding": {"x": {"field": "f2", "type": "quantitative"}, "y": {"field": "p2", "type": "quantitative"}}},
  {"data": {"name": "arrows"}, "transform": [{"filter": "datum.id == 4"}], "mark": {"type": "point", "shape": "M0,0L0.3,1L-0.3,1Z", "filled": true, "color": "#000", "opacity": 1, "size": 2304, "angle": 34.4},
   "encoding": {"x": {"field": "f2", "type": "quantitative"}, "y": {"field": "p2", "type": "quantitative"}}},
  {"data": {"name": "arrows"}, "transform": [{"filter": "datum.id == 5"}], "mark": {"type": "point", "shape": "M0,0L0.3,1L-0.3,1Z", "filled": true, "color": "#000", "opacity": 1, "size": 2304, "angle": 34.5},
   "encoding": {"x": {"field": "f2", "type": "quantitative"}, "y": {"field": "p2", "type": "quantitative"}}},
  {"data": {"name": "arrows"}, "transform": [{"filter": "datum.id == 6"}], "mark": {"type": "point", "shape": "M0,0L0.3,1L-0.3,1Z", "filled": true, "color": "#000", "opacity": 1, "size": 2304, "angle": 71.2},
   "encoding": {"x": {"field": "f2", "type": "quantitative"}, "y": {"field": "p2", "type": "quantitative"}}},
  {"data": {"name": "notes"}, "mark": {"type": "text", "align": "left", "baseline": "alphabetic", "font": "Liberation Sans, sans-serif", "fontSize": 31, "color": "#000"},
   "encoding": {"text": {"field": "t"}}}
]
}
